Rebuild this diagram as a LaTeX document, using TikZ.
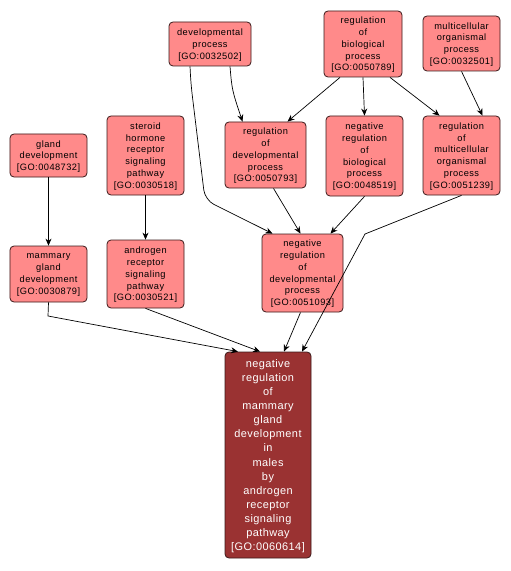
\documentclass[tikz,border=0pt]{standalone}
\usepackage{fontspec}
\setmainfont{Liberation Sans}
\newfontfamily\termfont[LetterSpace=5]{Liberation Sans}
\newfontfamily\mainfont[LetterSpace=4]{Liberation Sans}
\usetikzlibrary{arrows.meta}
\definecolor{nodefill}{HTML}{FF8A8A}
\definecolor{mainfill}{HTML}{9A3232}
\definecolor{nodeborder}{HTML}{3A1A1A}
\tikzset{
  term/.style={draw=nodeborder, line width=0.8bp, fill=nodefill, rounded corners=4bp,
    inner sep=0pt, align=center, text depth=0pt, font=\termfont\fontsize{9.3}{11.8}\selectfont, text=black},
  mainterm/.style={term, fill=mainfill, text=white, font=\mainfont\fontsize{11}{14.2}\selectfont},
  edge/.style={draw=black, line width=0.7bp, -{Stealth[length=7bp,width=6bp]}},
}
\begin{document}
\begin{tikzpicture}[x=1bp,y=-1bp]
\useasboundingbox (0,0) rectangle (511,571);
\node[term, minimum width=82bp, minimum height=44bp] (dev) at (210,44) {developmental\\process\\{[}GO:0032502{]}};
\node[term, minimum width=78bp, minimum height=66bp] (rbp) at (363,44) {regulation\\of\\biological\\process\\{[}GO:0050789{]}};
\node[term, minimum width=77bp, minimum height=55bp] (mop) at (461.5,43.5) {multicellular\\organismal\\process\\{[}GO:0032501{]}};
\node[term, minimum width=77bp, minimum height=43bp] (gland) at (48.5,155.5) {gland\\development\\{[}GO:0048732{]}};
\node[term, minimum width=77bp, minimum height=79bp] (ster) at (145.5,155.5) {steroid\\hormone\\receptor\\signaling\\pathway\\{[}GO:0030518{]}};
\node[term, minimum width=81bp, minimum height=66bp] (rdp) at (265.5,155) {regulation\\of\\developmental\\process\\{[}GO:0050793{]}};
\node[term, minimum width=77bp, minimum height=80bp] (nrbp) at (364.5,156) {negative\\regulation\\of\\biological\\process\\{[}GO:0048519{]}};
\node[term, minimum width=77bp, minimum height=79bp] (rmop) at (461.5,155.5) {regulation\\of\\multicellular\\organismal\\process\\{[}GO:0051239{]}};
\node[term, minimum width=77bp, minimum height=56bp] (mgd) at (48.5,274) {mammary\\gland\\development\\{[}GO:0030879{]}};
\node[term, minimum width=77bp, minimum height=68bp] (arsp) at (145.5,274) {androgen\\receptor\\signaling\\pathway\\{[}GO:0030521{]}};
\node[term, minimum width=81bp, minimum height=78bp] (nrdp) at (302.5,273) {negative\\regulation\\of\\developmental\\process\\{[}GO:0051093{]}};
\node[mainterm, minimum width=86bp, minimum height=206bp] (main) at (268,455) {negative\\regulation\\of\\mammary\\gland\\development\\in\\males\\by\\androgen\\receptor\\signaling\\pathway\\{[}GO:0060614{]}};

\coordinate (b1) at (205,200);
\coordinate (b2) at (365,234);
\coordinate (b3) at (48,316);
\draw[edge, rounded corners=10bp] ([xshift=-20bp]dev.south) -- (191,85) -- (b1) -- ([xshift=-30bp]nrdp.north);
\draw[edge] ([xshift=20bp]dev.south) .. controls (232,90) .. ([xshift=-23bp]rdp.north);
\draw[edge] ([xshift=-23bp]rbp.south) -- ([xshift=22bp]rdp.north);
\draw[edge] (rbp.south) -- (nrbp.north);
\draw[edge] ([xshift=27bp]rbp.south) -- ([xshift=-22bp]rmop.north);
\draw[edge] (mop.south) -- ([xshift=21bp]rmop.north);
\draw[edge] (gland.south) -- (mgd.north);
\draw[edge] (ster.south) -- (arsp.north);
\draw[edge] ([xshift=8bp]rdp.south) -- ([xshift=-2bp]nrdp.north);
\draw[edge] (nrbp.south) -- ([xshift=28bp]nrdp.north);
\draw[edge] (rmop.south) -- (b2) -- ([xshift=34bp]main.north);
\draw[edge] ([xshift=-2bp]nrdp.south) -- ([xshift=16bp]main.north);
\draw[edge] (mgd.south) -- (b3) -- ([xshift=-30bp]main.north);
\draw[edge] (arsp.south) -- ([xshift=-8bp]main.north);
\end{tikzpicture}
\end{document}
